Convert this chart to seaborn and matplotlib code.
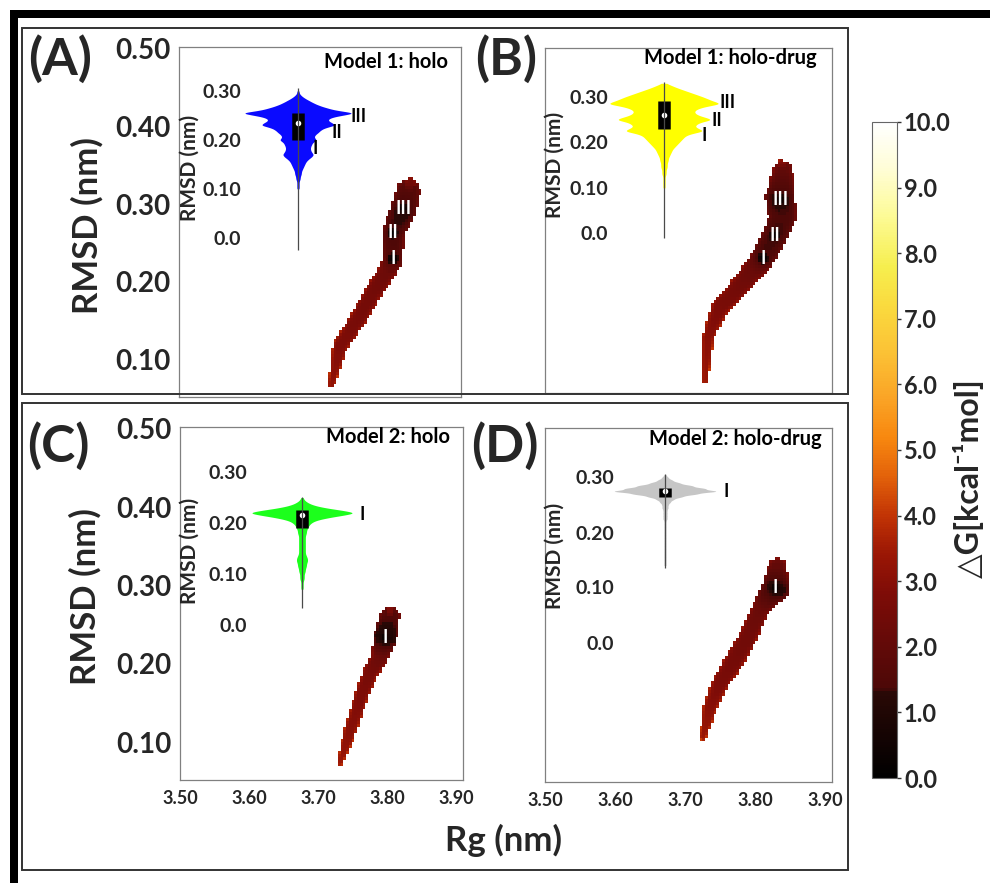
import numpy as np
import matplotlib
matplotlib.use("Agg")
import matplotlib.pyplot as plt
import seaborn as sns
from matplotlib.colors import LinearSegmentedColormap
from matplotlib.patches import Rectangle

# ------------------------------------------------------------------ data
panel_letters = ["(A)", "(B)", "(C)", "(D)"]
panel_titles = ["Model 1: holo", "Model 1: holo-drug", "Model 2: holo", "Model 2: holo-drug"]
violin_colors = ["#0a0aff", "#ffff00", "#1cff1c", "#c6c6c6"]

rg_ticks = [3.50, 3.60, 3.70, 3.80, 3.90]
rmsd_ticks = [0.10, 0.20, 0.30, 0.40, 0.50]
inset_ticks = [0.0, 0.10, 0.20, 0.30]
inset_ticklabels = ["0.0", "0.10", "0.20", "0.30"]
cbar_ticks = [0, 1, 2, 3, 4, 5, 6, 7, 8, 9, 10]

# free-energy landscape ridge (Rg, RMSD, half-width in nm, dG along ridge)
a_path_rg = [3.722, 3.734, 3.759, 3.782, 3.802, 3.811, 3.811, 3.826, 3.833, 3.836]
a_path_rmsd = [0.069, 0.117, 0.151, 0.186, 0.212, 0.228, 0.262, 0.293, 0.316, 0.325]
a_path_hw = [0.005, 0.011, 0.012, 0.013, 0.013, 0.015, 0.016, 0.019, 0.018, 0.010]
a_path_g = [3.2, 2.8, 2.6, 2.5, 2.3, 1.6, 1.4, 1.2, 1.6, 2.4]
a_basin_rg = [3.811, 3.811, 3.826]
a_basin_rmsd = [0.230, 0.263, 0.295]
a_basin_lab = ["I", "II", "III"]

b_path_rg = [3.729, 3.733, 3.750, 3.774, 3.797, 3.811, 3.829, 3.839, 3.836, 3.840, 3.838]
b_path_rmsd = [0.069, 0.125, 0.164, 0.186, 0.212, 0.228, 0.258, 0.282, 0.306, 0.343, 0.352]
b_path_hw = [0.004, 0.008, 0.013, 0.014, 0.016, 0.017, 0.018, 0.020, 0.022, 0.014, 0.006]
b_path_g = [3.3, 3.0, 2.7, 2.5, 2.2, 1.4, 1.3, 1.4, 1.2, 2.0, 2.8]
b_basin_rg = [3.811, 3.829, 3.836]
b_basin_rmsd = [0.228, 0.258, 0.305]
b_basin_lab = ["I", "II", "III"]

c_path_rg = [3.732, 3.746, 3.761, 3.775, 3.790, 3.797, 3.804, 3.805]
c_path_rmsd = [0.074, 0.112, 0.154, 0.188, 0.209, 0.234, 0.260, 0.266]
c_path_hw = [0.005, 0.009, 0.010, 0.011, 0.013, 0.017, 0.015, 0.008]
c_path_g = [3.4, 3.0, 2.8, 2.6, 2.2, 0.8, 1.5, 2.5]
c_basin_rg = [3.797]
c_basin_rmsd = [0.234]
c_basin_lab = ["I"]

d_path_rg = [3.726, 3.736, 3.750, 3.774, 3.793, 3.807, 3.829, 3.832]
d_path_rmsd = [0.109, 0.147, 0.178, 0.211, 0.241, 0.271, 0.299, 0.325]
d_path_hw = [0.005, 0.010, 0.012, 0.014, 0.013, 0.013, 0.020, 0.014]
d_path_g = [3.4, 3.0, 2.7, 2.5, 2.4, 2.2, 1.0, 2.0]
d_basin_rg = [3.829]
d_basin_rmsd = [0.299]
d_basin_lab = ["I"]

# RMSD distributions for the violin insets (bin value, relative count)
a_rmsd = [0.100, 0.105, 0.110, 0.115, 0.120, 0.125, 0.130, 0.135, 0.140, 0.145,
          0.150, 0.155, 0.160, 0.165, 0.170, 0.175, 0.180, 0.185, 0.190, 0.195,
          0.200, 0.205, 0.210, 0.215, 0.220, 0.225, 0.230, 0.235, 0.240, 0.245,
          0.250, 0.255, 0.260, 0.265, 0.270, 0.275, 0.280, 0.285, 0.290, 0.295, 0.300]
a_count = [1, 1, 1, 1, 2, 2, 3, 3, 4, 5,
           6, 7, 9, 12, 14, 12, 11, 11, 12, 13,
           17, 14, 15, 18, 20, 24, 34, 30, 26, 28,
           38, 53, 34, 26, 19, 14, 10, 6, 3, 1, 1]
a_range = [-0.025, 0.306]
a_vlab = ["I", "II", "III"]
a_vlab_rmsd = [0.183, 0.216, 0.247]

b_rmsd = [0.100, 0.105, 0.110, 0.115, 0.120, 0.125, 0.130, 0.135, 0.140, 0.145,
          0.150, 0.155, 0.160, 0.165, 0.170, 0.175, 0.180, 0.185, 0.190, 0.195,
          0.200, 0.205, 0.210, 0.215, 0.220, 0.225, 0.230, 0.235, 0.240, 0.245,
          0.250, 0.255, 0.260, 0.265, 0.270, 0.275, 0.280, 0.285, 0.290, 0.295,
          0.300, 0.305, 0.310, 0.315, 0.320, 0.325, 0.330]
b_count = [1, 1, 1, 1, 1, 1, 2, 2, 2, 3,
           3, 3, 4, 4, 5, 6, 7, 8, 10, 12,
           14, 16, 18, 20, 26, 38, 32, 28, 30, 34,
           46, 38, 31, 28, 28, 32, 40, 54, 46, 41,
           36, 30, 24, 18, 12, 7, 2]
b_range = [-0.010, 0.332]
b_vlab = ["I", "II", "III"]
b_vlab_rmsd = [0.216, 0.249, 0.287]

c_rmsd = [0.070, 0.075, 0.080, 0.085, 0.090, 0.095, 0.100, 0.105, 0.110, 0.115,
          0.120, 0.125, 0.130, 0.135, 0.140, 0.145, 0.150, 0.155, 0.160, 0.165,
          0.170, 0.175, 0.180, 0.185, 0.190, 0.195, 0.200, 0.205, 0.210, 0.215,
          0.220, 0.225, 0.230, 0.235, 0.240, 0.245, 0.250]
c_count = [1, 1, 1, 1, 2, 2, 2, 3, 3, 4,
           4, 5, 5, 4, 3, 3, 3, 3, 3, 3,
           3, 3, 4, 4, 5, 6, 8, 12, 22, 36,
           50, 36, 20, 10, 5, 2, 1]
c_range = [0.033, 0.252]
c_vlab = ["I"]
c_vlab_rmsd = [0.216]

d_rmsd = [0.140, 0.145, 0.150, 0.155, 0.160, 0.165, 0.170, 0.175, 0.180, 0.185,
          0.190, 0.195, 0.200, 0.205, 0.210, 0.215, 0.220, 0.225, 0.230, 0.235,
          0.240, 0.245, 0.250, 0.255, 0.260, 0.265, 0.270, 0.275, 0.280, 0.285,
          0.290, 0.295, 0.300, 0.305]
d_count = [1, 1, 1, 1, 1, 1, 1, 1, 1, 1,
           1, 1, 1, 1, 1, 1, 1, 2, 2, 2,
           2, 3, 3, 5, 8, 16, 30, 51, 38, 26,
           14, 7, 3, 1]
d_range = [0.135, 0.306]
d_vlab = ["I"]
d_vlab_rmsd = [0.274]

# colour scale of the free energy bar (position, colour)
cmap_pos = [0.0, 0.06, 0.13, 0.135, 0.20, 0.28, 0.34, 0.40, 0.46, 0.52, 0.58, 0.65, 0.72, 0.78, 0.86, 0.93, 1.0]
cmap_col = ["#000000", "#140403", "#2a0906", "#4c0807", "#620a08", "#7e0c07", "#9a1605",
            "#c23405", "#e3620a", "#f8880f", "#faa426", "#fbc235", "#fada3e", "#f6ee4e",
            "#fdfb98", "#fffdd6", "#ffffff"]

# ------------------------------------------------------------------ style
sns.set_theme(style="white")
plt.rcParams["font.family"] = ["Lato", "DejaVu Sans"]
plt.rcParams["font.weight"] = "bold"
plt.rcParams["axes.labelweight"] = "bold"

W, H = 990, 883
fig = plt.figure(figsize=(W / 100, H / 100), dpi=100)
fig.patch.set_facecolor("white")


def px_box(x0, y0, x1, y1):
    return [x0 / W, 1 - y1 / H, (x1 - x0) / W, (y1 - y0) / H]


def fx(x):
    return x / W


def fy(y):
    return 1 - y / H


cmap = LinearSegmentedColormap.from_list("fel", list(zip(cmap_pos, cmap_col)))

XLIM = (3.50, 3.91)
YLIM = (0.052, 0.502)
PX, PY = 690.0, 782.0  # px per nm on the landscape axes (for distance shaping)


def fel_field(p_rg, p_rmsd, p_hw, p_g, b_rg, b_rmsd):
    grid_rg = np.linspace(XLIM[0], XLIM[1], 104)
    grid_rmsd = np.linspace(YLIM[0], YLIM[1], 118)
    X, Y = np.meshgrid(grid_rg, grid_rmsd)
    best = np.full(X.shape, np.inf)
    gval = np.full(X.shape, np.nan)
    for i in range(len(p_rg) - 1):
        x0, y0 = p_rg[i] * PX, p_rmsd[i] * PY
        x1, y1 = p_rg[i + 1] * PX, p_rmsd[i + 1] * PY
        vx, vy = x1 - x0, y1 - y0
        t = np.clip(((X * PX - x0) * vx + (Y * PY - y0) * vy) / (vx * vx + vy * vy), 0, 1)
        d = np.hypot(X * PX - (x0 + t * vx), Y * PY - (y0 + t * vy))
        w = (p_hw[i] + t * (p_hw[i + 1] - p_hw[i])) * PX
        q = d / w
        g = p_g[i] + t * (p_g[i + 1] - p_g[i])
        upd = q < best
        best = np.where(upd, q, best)
        gval = np.where(upd, g, gval)
    G = gval + 0.9 * best ** 4
    for brg, brm in zip(b_rg, b_rmsd):
        r = np.hypot((X - brg) * PX, (Y - brm) * PY) / (0.009 * PX)
        G = np.minimum(G, 0.15 + 1.4 * r ** 2)
    G = np.where(best <= 1, G, np.nan)
    return grid_rg, grid_rmsd, G


panels = [
    dict(box=(179, 47, 461, 397), path=(a_path_rg, a_path_rmsd, a_path_hw, a_path_g),
         basins=(a_basin_rg, a_basin_rmsd, a_basin_lab), xlab=False, ylab=True,
         title_xy=(0.954, 0.957),
         violin=(a_rmsd, a_count, a_range, a_vlab, a_vlab_rmsd),
         inset=(245, 88, 351, 250), ilim=(-0.025, 0.306), vwidth=1.0,
         vlab_x=[0.66, 0.87, 1.07]),
    dict(box=(545, 48, 832, 393), path=(b_path_rg, b_path_rmsd, b_path_hw, b_path_g),
         basins=(b_basin_rg, b_basin_rmsd, b_basin_lab), xlab=False, ylab=False,
         title_xy=(0.948, 0.971),
         violin=(b_rmsd, b_count, b_range, b_vlab, b_vlab_rmsd),
         inset=(612, 81, 716, 238), ilim=(-0.010, 0.335), vwidth=1.04,
         vlab_x=[0.89, 1.01, 1.11]),
    dict(box=(180, 427, 463, 780), path=(c_path_rg, c_path_rmsd, c_path_hw, c_path_g),
         basins=(c_basin_rg, c_basin_rmsd, c_basin_lab), xlab=True, ylab=True,
         title_xy=(0.954, 0.972),
         violin=(c_rmsd, c_count, c_range, c_vlab, c_vlab_rmsd),
         inset=(251, 467, 353, 630), ilim=(-0.010, 0.310), vwidth=0.98,
         vlab_x=[1.09]),
    dict(box=(545, 428, 832, 782), path=(d_path_rg, d_path_rmsd, d_path_hw, d_path_g),
         basins=(d_basin_rg, d_basin_rmsd, d_basin_lab), xlab=True, ylab=False,
         title_xy=(0.965, 0.969),
         violin=(d_rmsd, d_count, d_range, d_vlab, d_vlab_rmsd),
         inset=(618, 472, 712, 648), ilim=(-0.010, 0.310), vwidth=1.08,
         vlab_x=[1.15]),
]

mappable = None
for k, p in enumerate(panels):
    ax = fig.add_axes(px_box(*p["box"]))
    ax.set_facecolor("white")
    grx, gry, G = fel_field(*p["path"], p["basins"][0], p["basins"][1])
    mappable = ax.pcolormesh(grx, gry, G, cmap=cmap, vmin=0, vmax=10, shading="nearest")
    for brg, brm, lab in zip(*p["basins"]):
        ax.text(brg, brm, lab, color="white", fontsize=13, fontweight="bold",
                ha="center", va="center")
    ax.set_xlim(*XLIM)
    ax.set_ylim(*YLIM)
    ax.set_xticks(rg_ticks)
    ax.set_yticks(rmsd_ticks)
    ax.tick_params(direction="in", length=3, width=0.8, color="#777777")
    if p["xlab"]:
        ax.set_xticklabels([f"{v:.2f}" for v in rg_ticks], fontsize=13, fontweight="bold")
        ax.tick_params(axis="x", pad=7)
    else:
        ax.set_xticklabels([])
    if p["ylab"]:
        ax.set_yticklabels([f"{v:.2f}" for v in rmsd_ticks], fontsize=20, fontweight="bold")
        ax.tick_params(axis="y", pad=6)
    else:
        ax.set_yticklabels([])
    for s in ax.spines.values():
        s.set_color("#808080")
        s.set_linewidth(0.9)
    ax.text(p["title_xy"][0], p["title_xy"][1], panel_titles[k], transform=ax.transAxes,
            ha="right", va="center", fontsize=14.5, fontweight="bold", color="black")

    # violin inset
    v_rmsd, v_count, v_range, v_lab, v_lab_rmsd = p["violin"]
    obs = np.repeat(np.array(v_rmsd), np.array(v_count))
    ins = fig.add_axes(px_box(*p["inset"]))
    ins.patch.set_alpha(0)
    ins.vlines(0, v_range[0], v_range[1], color="#4a4a4a", lw=0.9, zorder=3)
    sns.violinplot(y=obs, ax=ins, color=violin_colors[k], saturation=1, linewidth=0,
                   cut=0, bw_method=0.08, gridsize=400, density_norm="width",
                   width=p["vwidth"], inner="box",
                   inner_kws=dict(box_width=9, whis_width=0, marker="o",
                                  markersize=2.2, color="black",
                                  solid_capstyle="butt"))
    for art in ins.collections + ins.lines:
        art.set_clip_on(False)
    ins.set_xlim(-0.5, 0.5)
    ins.set_ylim(*p["ilim"])
    ins.set_xticks([])
    ins.set_yticks(inset_ticks)
    ins.set_yticklabels(inset_ticklabels, fontsize=14, fontweight="bold")
    ins.tick_params(axis="y", length=0, pad=3)
    ins.set_ylabel("")
    ins.set_xlabel("")
    for s in ins.spines.values():
        s.set_visible(False)
    for lab, yv, xv in zip(v_lab, v_lab_rmsd, p["vlab_x"]):
        ins.text(xv, yv, lab, transform=ins.get_yaxis_transform(), ha="center",
                 va="center", fontsize=13, fontweight="bold", color="black", clip_on=False)

# inset y labels
for (x, y) in [(190, 168), (555, 165), (190, 551), (555, 556)]:
    fig.text(fx(x), fy(y), "RMSD (nm)", rotation=90, ha="center", va="center",
             fontsize=15, fontweight="bold")

# main axis labels
fig.text(fx(87), fy(226), "RMSD (nm)", rotation=90, ha="center", va="center",
         fontsize=25, fontweight="bold")
fig.text(fx(85), fy(597), "RMSD (nm)", rotation=90, ha="center", va="center",
         fontsize=25, fontweight="bold")
fig.text(fx(503), fy(840), "Rg (nm)", ha="center", va="center", fontsize=25,
         fontweight="bold")

# panel letters
for lab, (x, y) in zip(panel_letters, [(60, 59), (506, 59), (58, 446), (505, 446)]):
    fig.text(fx(x), fy(y), lab, ha="center", va="center", fontsize=37, fontweight="bold")

# colour bar
cax = fig.add_axes(px_box(872, 122, 897, 778))
cb = fig.colorbar(mappable, cax=cax, ticks=cbar_ticks)
cb.set_ticklabels([f"{v:.1f}" for v in cbar_ticks])
cax.tick_params(labelsize=17, length=3, width=1, color="#333333", pad=2)
for t in cax.get_yticklabels():
    t.set_fontweight("bold")
cb.outline.set_edgecolor("#666666")
cb.outline.set_linewidth(0.8)
fig.text(fx(968), fy(478), "\u25b3G[kcal\u207b\u00b9mol]", rotation=90, ha="center",
         va="center", fontsize=23, fontweight="bold")

# frame decorations
fig.add_artist(Rectangle((fx(10), fy(18)), (W - 10) / W, 8 / H, transform=fig.transFigure,
                         facecolor="black", edgecolor="none"))
fig.add_artist(Rectangle((fx(10), 0), 8 / W, (H - 10) / H, transform=fig.transFigure,
                         facecolor="black", edgecolor="none"))
fig.add_artist(Rectangle((fx(22), fy(394)), (848 - 22) / W, (394 - 28) / H,
                         transform=fig.transFigure, fill=False, edgecolor="#333333", lw=1.4))
fig.add_artist(Rectangle((fx(22), fy(870)), (848 - 22) / W, (870 - 403) / H,
                         transform=fig.transFigure, fill=False, edgecolor="#333333", lw=1.4))

fig.savefig("out.png", dpi=100)
